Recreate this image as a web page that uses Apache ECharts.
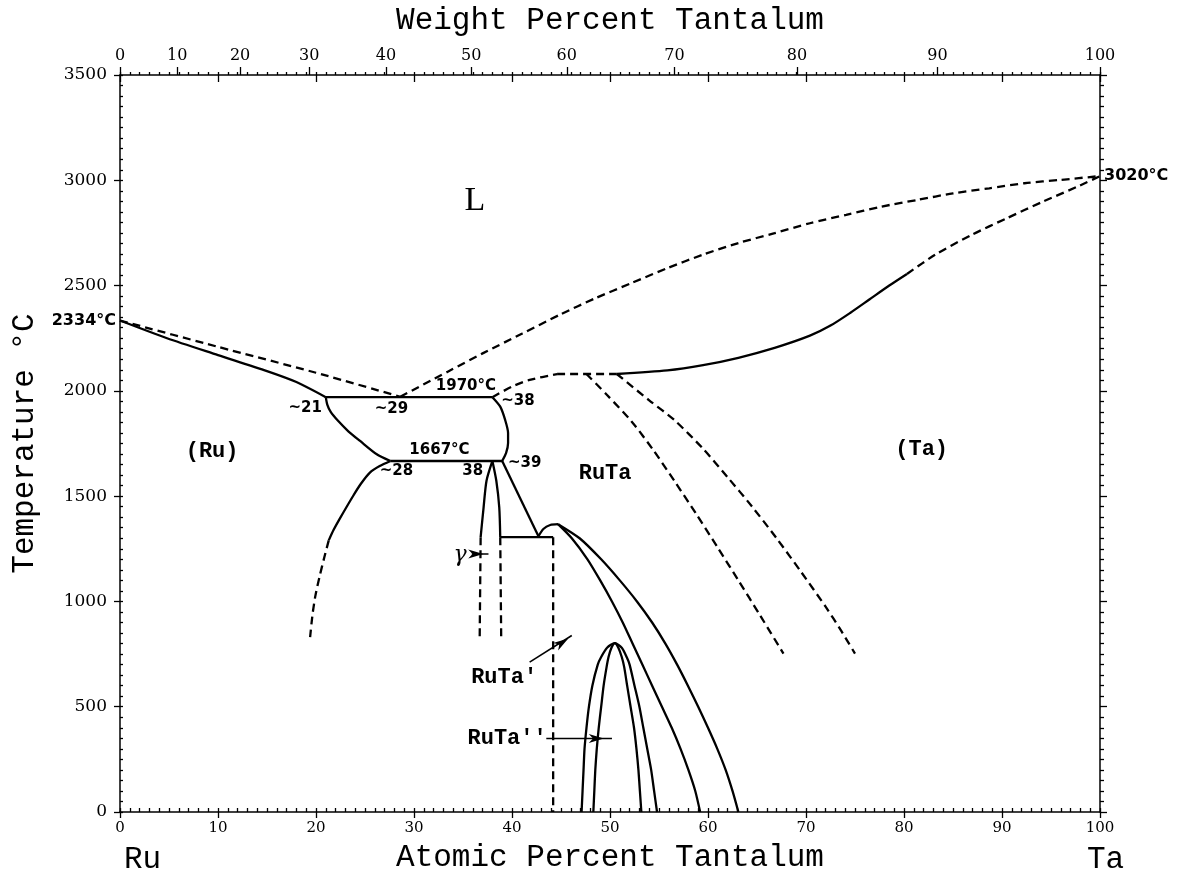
<!DOCTYPE html>
<html>
<head>
<meta charset="utf-8">
<title>Ru-Ta Phase Diagram</title>
<script src="https://cdn.jsdelivr.net/npm/echarts@6/dist/echarts.min.js"></script>
<style>
  html, body { margin: 0; padding: 0; background: #fff; }
  #chart { width: 1183px; height: 878px; }
</style>
</head>
<body>
<div id="chart"></div>
<script>
// ---- Axis ticks ----
const atomicTicks = [0, 10, 20, 30, 40, 50, 60, 70, 80, 90, 100];
const tempTicks = [0, 500, 1000, 1500, 2000, 2500, 3000, 3500];
const weightTicks = [0, 10, 20, 30, 40, 50, 60, 70, 80, 90, 100];

// ---- Phase boundaries: [at.% Ta, temperature °C] ----
// solid lines
const ruSolidus = [[0, 2334], [4.8, 2250], [10, 2170], [15, 2094], [18, 2042], [21, 1970]];
const eutecticLine = [[21, 1970], [38, 1970]];
const ruSolvusHigh = [[21, 1970], [21.15, 1935], [21.5, 1900], [22.2, 1860], [23.3, 1808], [24.5, 1762], [26.2, 1699], [27.6, 1667]];
const peritecticLine = [[27.6, 1667], [39.0, 1667]];
const rutaLeftEdge = [[38, 1970], [38.8, 1925], [39.3, 1862], [39.6, 1800], [39.6, 1752], [39.4, 1705], [39.0, 1667]];
const ruSolvusLow = [[27.6, 1667], [26.5, 1643], [25.5, 1612], [24.6, 1560], [23.8, 1502], [22.4, 1391], [21.8, 1340], [21.3, 1290]];
const gammaLeft = [[38.0, 1667], [37.4, 1573], [37.1, 1446], [36.8, 1305]];
const gammaRight = [[38.0, 1667], [38.4, 1573], [38.7, 1446], [38.8, 1305]];
const rutaLowEdge = [[39.0, 1667], [42.7, 1310]];
const eutectoidLine = [[38.8, 1305], [44.2, 1305]];
const rutaPrimeCap = [[42.7, 1310], [43.2, 1344], [43.9, 1363], [44.7, 1367]];
const rutaPrimeInner = [[44.7, 1367], [46.1, 1300], [47.7, 1200], [49.0, 1100], [50.2, 1000], [51.3, 900], [52.3, 800], [53.3, 700],
                        [54.3, 600], [55.3, 500], [56.3, 400], [57.2, 300], [58.0, 200], [58.7, 100], [59.2, 0]];
const rutaPrimeOuter = [[44.7, 1367], [46.9, 1300], [49.1, 1200], [51.0, 1100], [52.75, 1000], [54.3, 900], [55.65, 800], [56.85, 700],
                        [57.95, 600], [59.0, 500], [60.0, 400], [60.95, 300], [61.8, 200], [62.5, 100], [63.1, 0]];
const rutaDoubleOuter = [[47.1, 0], [47.2, 100], [47.3, 200], [47.4, 300], [47.6, 400], [47.85, 500], [48.2, 600], [48.75, 700],
                         [49.1, 736], [49.7, 780], [50.5, 802], [51.2, 780], [51.7, 736], [52.0, 700], [52.5, 600],
                         [53.0, 500], [53.4, 400], [53.8, 300], [54.2, 200], [54.5, 100], [54.8, 0]];
const rutaDoubleInner = [[48.3, 0], [48.4, 100], [48.5, 200], [48.65, 300], [48.85, 400], [49.1, 500], [49.35, 600], [49.65, 688],
                         [49.85, 736], [50.15, 780], [50.5, 802], [50.85, 780], [51.2, 736], [51.45, 688], [51.75, 600],
                         [52.1, 500], [52.45, 400], [52.7, 300], [52.9, 200], [53.05, 100], [53.2, 0]];
const taSolidus = [[50.7, 2080], [55.85, 2097], [59.5, 2122], [63.1, 2157], [66.8, 2204], [70.4, 2262], [72.5, 2310],
                   [74.5, 2370], [76.5, 2435], [78.5, 2500], [80.3, 2555]];

// dashed lines
const ruLiquidus = [[0, 2334], [10, 2209], [20, 2086], [28.6, 1972]];
const taLiquidus = [[28.6, 1972], [33.4, 2090], [37, 2178], [41, 2271], [44.9, 2362], [48.55, 2441], [52.2, 2512], [55.85, 2583],
                    [59.5, 2647], [63.1, 2702], [66.8, 2749], [70.4, 2796], [74.1, 2836], [77.7, 2875], [81.4, 2907],
                    [85.0, 2938], [88.7, 2962], [92.3, 2986], [96.0, 3002], [100, 3020]];
const rutaLiquidus = [[38, 1970], [40, 2020], [41.8, 2052], [44.6, 2080]];
const peritecticHigh = [[44.6, 2080], [50.7, 2080]];
const taSolidusUpper = [[80.3, 2555], [83.2, 2647], [86.9, 2741], [90.5, 2820], [94.2, 2899], [97.8, 2972], [100, 3020]];
const rutaSolvus = [[47.6, 2080], [49.6, 1985], [52.2, 1855], [54.4, 1720], [56.6, 1570], [58.8, 1415], [61.0, 1255],
                    [63.1, 1100], [65.3, 935], [67.7, 752]];
const taSolvus = [[50.7, 2080], [54.0, 1955], [56.6, 1860], [59.5, 1725], [62.0, 1590], [64.5, 1450], [67.0, 1300],
                  [69.5, 1140], [72.0, 975], [73.6, 860], [75.0, 752]];
const ruSolvusTail = [[21.3, 1290], [20.85, 1210], [20.4, 1125], [19.95, 1030], [19.65, 940], [19.4, 830]];
const gammaLeftTail = [[36.8, 1305], [36.7, 815]];
const gammaRightTail = [[38.8, 1305], [38.9, 815]];
const rutaPrimeEdge = [[44.2, 1305], [44.2, 0]];

// pointer lines and their heads: [x, T, screen angle in degrees]
const gammaPointer = [[35.9, 1225], [37.6, 1225]];
const rutaPrimePointer = [[41.8, 712], [46.1, 838]];
const rutaDoublePointer = [[43.5, 349], [50.2, 349]];
const pointerHeads = [[36.3, 1225, -90], [45.1, 804, -57], [48.6, 349, -90]];

// ---- Labels: [x, T, text] ----
const phaseLabels = [[9.4, 1712, '(Ru)'], [49.5, 1610, 'RuTa'], [81.8, 1724, '(Ta)'], [39.2, 639, "RuTa'"], [39.5, 350, "RuTa''"]];
const valueLabels = [[18.9, 1918, '~21'], [27.7, 1914, '~29'], [35.3, 2023, '1970°C'], [40.6, 1952, '~38'],
                     [32.6, 1720, '1667°C'], [28.2, 1620, '~28'], [36.0, 1620, '38'], [41.3, 1658, '~39']];
const meltLabels = [[0, 2334, '2334°C', 'left'], [100, 3020, '3020°C', 'right']];
const liquidLabel = [[36.2, 2899, 'L']];
const gammaLabel = [[34.7, 1217, 'γ']];

// weight-percent ticks are placed on the atomic scale
const RU_MASS = 101.07, TA_MASS = 180.95;
function wtToAt(w) {
  const ta = w / TA_MASS, ru = (100 - w) / RU_MASS;
  return 100 * ta / (ta + ru);
}
const weightTickPos = weightTicks.map(wtToAt);

const BLACK = '#000';
const TICK_FONT = "'DejaVu Serif', 'Liberation Serif', serif";
const MONO = "'Liberation Mono', 'DejaVu Sans Mono', monospace";
const DASH = [8, 5];

function lineSeries(name, data, dashed, smooth) {
  return {
    name: name, type: 'line', data: data, xAxisIndex: 0, yAxisIndex: 0,
    showSymbol: false, symbol: 'none', smooth: smooth ? 0.25 : false,
    silent: true, animation: false, z: 3,
    lineStyle: { color: BLACK, width: 2.3, type: dashed ? DASH : 'solid', cap: 'butt' }
  };
}

function pointerSeries(name, data) {
  const s = lineSeries(name, data, false, false);
  s.lineStyle = { color: BLACK, width: 1.6 };
  return s;
}

function textSeries(name, rows, style) {
  return {
    name: name, type: 'scatter', xAxisIndex: 0, yAxisIndex: 0, symbolSize: 0, silent: true,
    animation: false, clip: false, z: 5,
    itemStyle: { color: BLACK, opacity: 1 },
    data: rows.map(r => ({
      value: [r[0], r[1]],
      label: Object.assign({
        show: true, formatter: r[2], color: BLACK, textBorderWidth: 0,
        position: r[3] || 'inside', distance: 4
      }, style)
    }))
  };
}

const axisLineStyle = { show: true, onZero: false, lineStyle: { color: BLACK, width: 1.5 } };
const tickStyle = { color: BLACK, width: 1.3 };

function baseX(extra) {
  return Object.assign({
    type: 'value', min: 0, max: 100, interval: 10, gridIndex: 0,
    splitLine: { show: false }, axisLine: { show: false, onZero: false },
    axisLabel: { show: false }, axisTick: { show: false }
  }, extra);
}
function baseY(extra) {
  return Object.assign({
    type: 'value', min: 0, max: 3500, interval: 500, gridIndex: 0,
    splitLine: { show: false }, axisLine: { show: false, onZero: false },
    axisLabel: { show: false }, axisTick: { show: false }
  }, extra);
}

const option = {
  backgroundColor: '#fff',
  animation: false,
  grid: { left: 120, right: 83, top: 74, bottom: 66, containLabel: false },
  xAxis: [
    // bottom: atomic percent, labelled
    baseX({
      position: 'bottom', axisLine: axisLineStyle,
      name: 'Atomic Percent Tantalum', nameLocation: 'middle', nameGap: 30,
      nameTextStyle: { fontFamily: MONO, fontSize: 31, color: BLACK },
      axisTick: { show: true, inside: false, length: 6, lineStyle: tickStyle },
      axisLabel: { show: true, margin: 9, fontFamily: TICK_FONT, fontSize: 15, color: BLACK,
                   formatter: v => (atomicTicks.indexOf(v) >= 0 ? String(v) : '') }
    }),
    // bottom: inward minor ticks every 1 at.%
    baseX({
      position: 'bottom',
      axisTick: { show: true, inside: true, length: 4, lineStyle: tickStyle },
      minorTick: { show: true, splitNumber: 10, length: 4, lineStyle: tickStyle }
    }),
    // top: inward major atomic ticks
    baseX({
      position: 'top', axisLine: axisLineStyle,
      axisTick: { show: true, inside: true, length: 7, lineStyle: tickStyle }
    }),
    // top: outward minor atomic ticks
    baseX({
      position: 'top',
      axisTick: { show: true, inside: false, length: 3, lineStyle: tickStyle },
      minorTick: { show: true, splitNumber: 10, length: 3, lineStyle: tickStyle }
    }),
    // top: weight percent scale
    baseX({
      position: 'top',
      name: 'Weight Percent Tantalum', nameLocation: 'middle', nameGap: 39,
      nameTextStyle: { fontFamily: MONO, fontSize: 31, color: BLACK },
      axisTick: { show: true, inside: false, length: 8, lineStyle: tickStyle, customValues: weightTickPos },
      axisLabel: {
        show: true, margin: 11, fontFamily: TICK_FONT, fontSize: 16, color: BLACK,
        customValues: weightTickPos,
        formatter: function (v) {
          let best = 0, d = Infinity;
          weightTickPos.forEach((p, i) => { if (Math.abs(p - v) < d) { d = Math.abs(p - v); best = i; } });
          return String(weightTicks[best]);
        }
      }
    })
  ],
  yAxis: [
    baseY({
      position: 'left', axisLine: axisLineStyle,
      name: 'Temperature °C', nameLocation: 'middle', nameGap: 80, nameRotate: 90,
      nameTextStyle: { fontFamily: MONO, fontSize: 31, color: BLACK },
      axisTick: { show: true, inside: false, length: 6, lineStyle: tickStyle },
      axisLabel: { show: true, margin: 13, fontFamily: TICK_FONT, fontSize: 17, color: BLACK,
                   formatter: v => (tempTicks.indexOf(v) >= 0 ? String(v) : '') }
    }),
    baseY({
      position: 'left',
      axisTick: { show: true, inside: true, length: 3, lineStyle: tickStyle },
      minorTick: { show: true, splitNumber: 10, length: 3, lineStyle: tickStyle }
    }),
    baseY({
      position: 'right', axisLine: axisLineStyle,
      axisTick: { show: true, inside: false, length: 7, lineStyle: tickStyle },
      minorTick: { show: true, splitNumber: 10, length: 4, lineStyle: tickStyle }
    })
  ],
  graphic: [
    { type: 'text', left: 124, top: 844, style: { text: 'Ru', font: "31px 'Liberation Mono', monospace", fill: BLACK } },
    { type: 'text', left: 1087, top: 844, style: { text: 'Ta', font: "31px 'Liberation Mono', monospace", fill: BLACK } }
  ],
  series: [
    lineSeries('ruSolidus', ruSolidus, false, true),
    lineSeries('eutecticLine', eutecticLine, false, false),
    lineSeries('ruSolvusHigh', ruSolvusHigh, false, true),
    lineSeries('peritecticLine', peritecticLine, false, false),
    lineSeries('rutaLeftEdge', rutaLeftEdge, false, true),
    lineSeries('ruSolvusLow', ruSolvusLow, false, true),
    lineSeries('gammaLeft', gammaLeft, false, true),
    lineSeries('gammaRight', gammaRight, false, true),
    lineSeries('rutaLowEdge', rutaLowEdge, false, false),
    lineSeries('eutectoidLine', eutectoidLine, false, false),
    lineSeries('rutaPrimeCap', rutaPrimeCap, false, true),
    lineSeries('rutaPrimeInner', rutaPrimeInner, false, true),
    lineSeries('rutaPrimeOuter', rutaPrimeOuter, false, true),
    lineSeries('rutaDoubleOuter', rutaDoubleOuter, false, true),
    lineSeries('rutaDoubleInner', rutaDoubleInner, false, true),
    lineSeries('taSolidus', taSolidus, false, true),
    lineSeries('ruLiquidus', ruLiquidus, true, true),
    lineSeries('taLiquidus', taLiquidus, true, true),
    lineSeries('rutaLiquidus', rutaLiquidus, true, true),
    lineSeries('peritecticHigh', peritecticHigh, true, false),
    lineSeries('taSolidusUpper', taSolidusUpper, true, true),
    lineSeries('rutaSolvus', rutaSolvus, true, true),
    lineSeries('taSolvus', taSolvus, true, true),
    lineSeries('ruSolvusTail', ruSolvusTail, true, true),
    lineSeries('gammaLeftTail', gammaLeftTail, true, false),
    lineSeries('gammaRightTail', gammaRightTail, true, false),
    lineSeries('rutaPrimeEdge', rutaPrimeEdge, true, false),
    pointerSeries('gammaPointer', gammaPointer),
    pointerSeries('rutaPrimePointer', rutaPrimePointer),
    pointerSeries('rutaDoublePointer', rutaDoublePointer),
    {
      name: 'pointerHeads', type: 'scatter', xAxisIndex: 0, yAxisIndex: 0, silent: true, animation: false, z: 6,
      symbol: 'path://M0,0 L5,14 L0,10 L-5,14 Z', symbolSize: [9, 15],
      itemStyle: { color: BLACK, opacity: 1 },
      data: pointerHeads.map(h => ({ value: [h[0], h[1]], symbolRotate: h[2] }))
    },
    textSeries('phaseLabels', phaseLabels, { fontFamily: MONO, fontWeight: 'bold', fontSize: 22 }),
    textSeries('valueLabels', valueLabels, { fontFamily: "'DejaVu Sans', sans-serif", fontWeight: 'bold', fontSize: 15 }),
    textSeries('meltLabels', meltLabels, { fontFamily: "'DejaVu Sans', sans-serif", fontWeight: 'bold', fontSize: 16 }),
    textSeries('liquidLabel', liquidLabel, { fontFamily: "'Liberation Serif', serif", fontSize: 34 }),
    textSeries('gammaLabel', gammaLabel, { fontFamily: "'DejaVu Serif', serif", fontStyle: 'italic', fontSize: 22 })
  ]
};

const chart = echarts.init(document.getElementById('chart'), null, { renderer: 'canvas' });
chart.setOption(option);
</script>
</body>
</html>
